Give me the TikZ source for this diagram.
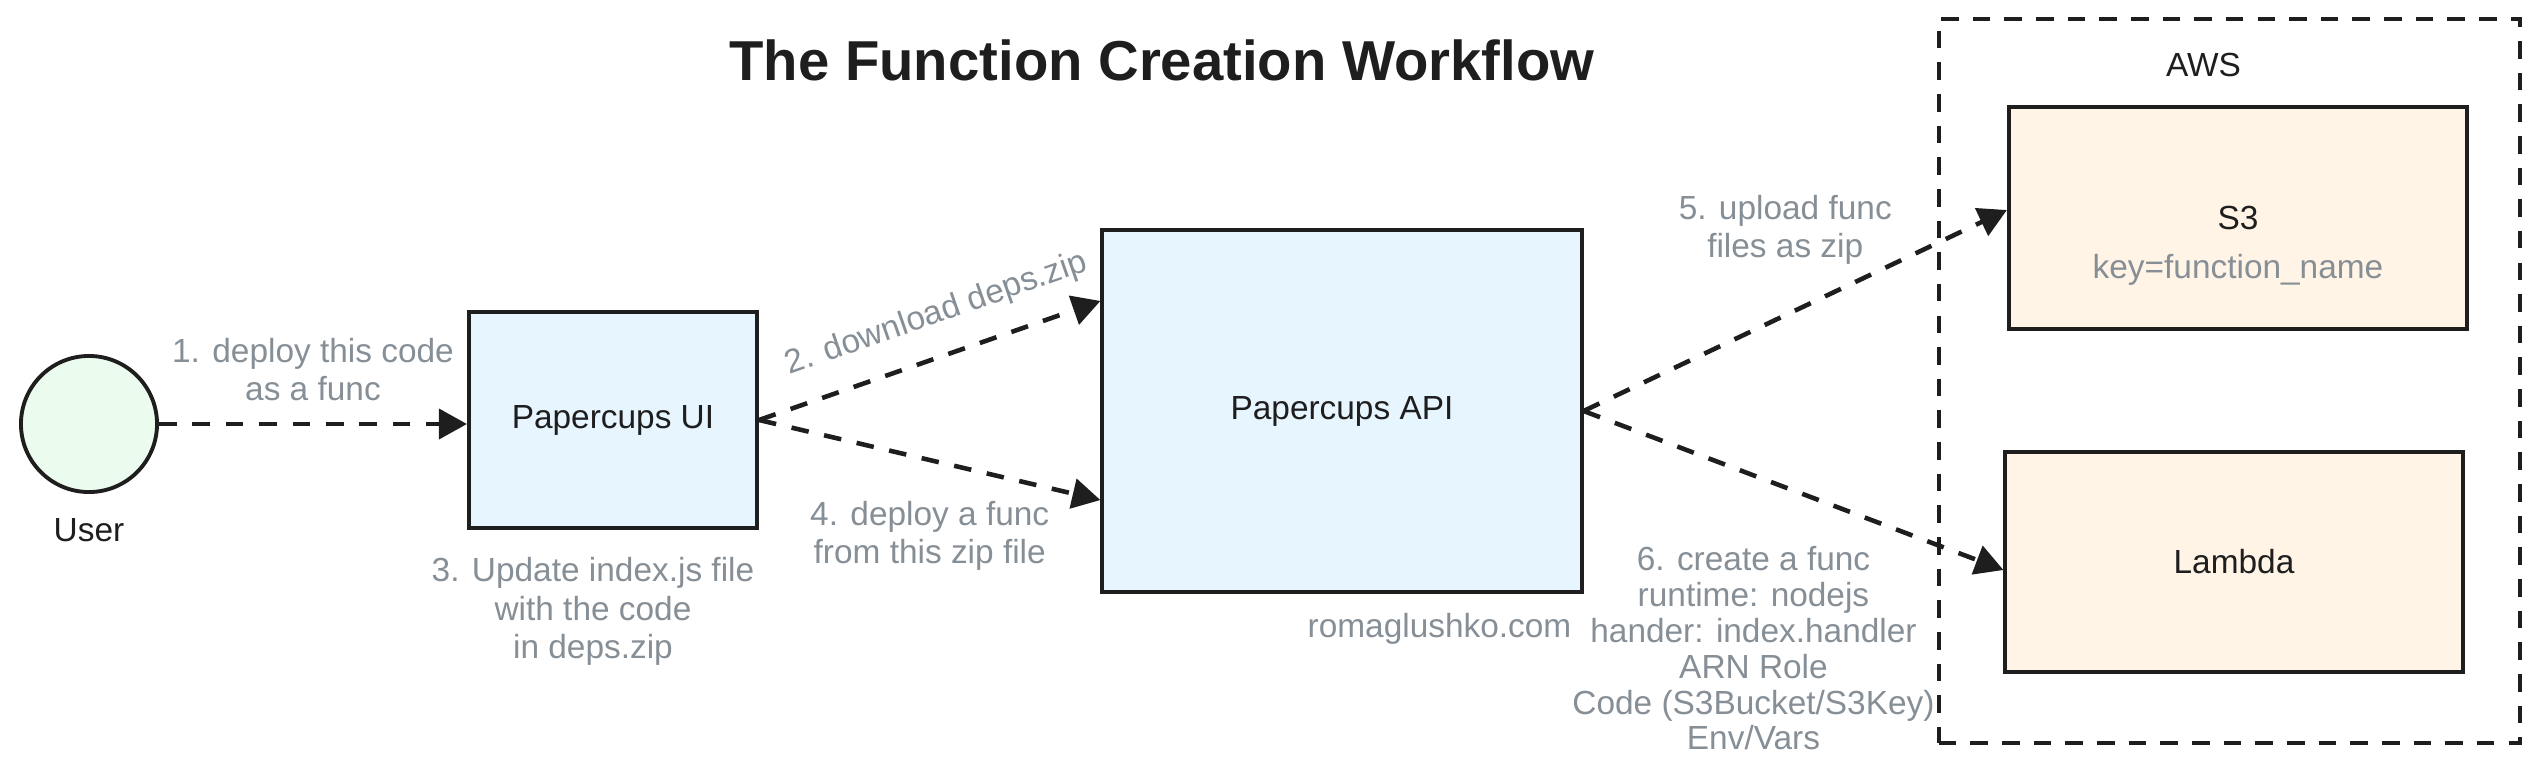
\documentclass[tikz,border=0pt]{standalone}
\usepackage{fontspec}
\setmainfont{Liberation Sans}
\usetikzlibrary{arrows.meta, positioning}
\definecolor{ink}{HTML}{1E1E1E}
\definecolor{notegray}{HTML}{868E96}
\definecolor{uiblue}{HTML}{E7F5FF}
\definecolor{userfill}{HTML}{EBFBEE}
\definecolor{awsfill}{HTML}{FFF4E6}
\begin{document}
\begin{tikzpicture}[x=0.01cm, y=-0.01cm, font=\fontsize{9.5}{11}\selectfont,
    box/.style={draw=ink, line width=1.1pt, align=center, inner sep=2pt, text=ink},
    txt/.style={text=ink, inner sep=1pt},
    lbl/.style={text=notegray, align=center, inner sep=1pt},
    flow/.style={draw=ink, line width=1.3pt, dash pattern=on 5pt off 4.5pt, -{Triangle[length=8pt, width=8.5pt]}}]
    \useasboundingbox (0,0) rectangle (2538,775);
    \node[txt, font=\fontsize{16}{19}\selectfont\bfseries] (title) at (1162,60) {The Function Creation Workflow};
    \node[box, circle, fill=userfill, minimum size=1.36cm] (user) at (89,424) {};
    \node[txt, below=0.2cm of user] (userlbl) {User};
    \node[box, fill=uiblue, minimum width=2.88cm, minimum height=2.16cm] (ui) at (613,420) {Papercups UI};
    \node[box, fill=uiblue, minimum width=4.79cm, minimum height=3.62cm] (api) at (1342,411) {Papercups API};
    \node[lbl, below left=0.15cm and 0.08cm of api.south east] (credit) {romaglushko.com};
    \node[lbl, below=0.23cm of ui, xshift=-0.2cm] (uinote) {3. Update index.js file\\with the code\\in deps.zip};
    % AWS side
    \node[box, dash pattern=on 5pt off 4pt, minimum width=5.81cm, minimum height=7.24cm] (aws) at (2229.5,381) {};
    \node[txt, below=0.32cm of aws.north, xshift=-0.26cm] (awslbl) {AWS};
    \node[box, fill=awsfill, minimum width=4.58cm, minimum height=2.22cm] (s3) at (2238,218) {S3};
    \node[lbl] (s3key) at ([yshift=-0.52cm]s3.center) {key=function\_name};
    \node[box, fill=awsfill, minimum width=4.57cm, minimum height=2.2cm] (lambda) at (2234,562) {Lambda};
    % steps
    \draw[flow] (user.east) -- (user.east -| ui.west)
        node[lbl, midway, above=0.17cm] {1. deploy this code\\as a func};
    \draw[flow] (ui.east) -- ([yshift=1.1cm]api.west)
        node[lbl, pos=0.56, sloped, above=0.2cm] {2. download deps.zip};
    \draw[flow] (ui.east) -- ([yshift=-0.89cm]api.west)
        node[lbl, midway, below=0.35cm] {4. deploy a func\\from this zip file};
    \draw[flow] (api.east) -- ([yshift=0.08cm]s3.west)
        node[lbl, midway, above=0.4cm, xshift=-0.1cm] {5. upload func\\files as zip};
    \draw[flow] (api.east) -- ([yshift=-0.08cm]lambda.west)
        node[lbl, midway, below=0.5cm, xshift=-0.4cm, font=\fontsize{9.5}{10.2}\selectfont] {6. create a func\\runtime: nodejs\\hander: index.handler\\ARN Role\\Code (S3Bucket/S3Key)\\Env/Vars};
\end{tikzpicture}
\end{document}
